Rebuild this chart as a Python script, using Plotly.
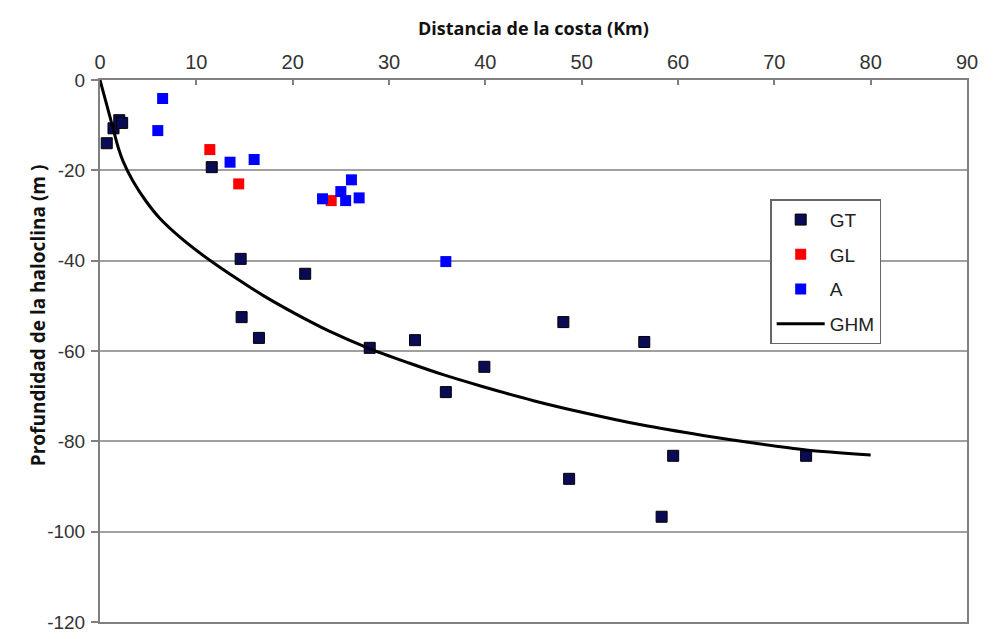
import plotly.graph_objects as go

# GT stations
gt_x = [0.7, 1.4, 2.0, 2.3, 11.6, 14.6, 21.3, 14.7, 16.5, 28.0, 32.7, 35.9, 39.9, 48.1, 48.7, 56.5, 58.3, 59.5, 73.3]
gt_y = [-14.0, -10.7, -8.9, -9.5, -19.3, -39.6, -42.9, -52.5, -57.1, -59.3, -57.6, -69.1, -63.5, -53.6, -88.3, -58.0, -96.7, -83.2, -83.2]

# GL stations
gl_x = [11.4, 14.4, 24.0]
gl_y = [-15.4, -23.0, -26.7]

# A stations
a_x = [6.5, 6.0, 13.5, 16.0, 23.1, 25.0, 26.1, 25.5, 26.9, 35.9]
a_y = [-4.1, -11.2, -18.2, -17.6, -26.3, -24.7, -22.1, -26.7, -26.1, -40.2]

# GHM curve
ghm_x = [0, 0.7, 1.35, 1.9, 2.4, 3.4, 4.8, 6.2, 8.3, 10.3, 12.4, 14.5, 17.0, 20.5, 23.8, 27.9, 32.0, 35.7, 39.6, 45.0, 49.9, 56.3, 62.6, 68.2, 73.3, 80.0]
ghm_y = [0, -5.5, -10.7, -15.0, -18.0, -22.3, -26.9, -30.6, -34.8, -38.2, -41.4, -44.4, -47.8, -52.0, -55.6, -59.4, -62.6, -65.3, -67.8, -71.0, -73.5, -76.4, -78.7, -80.5, -81.9, -83.0]

x_ticks = [0, 10, 20, 30, 40, 50, 60, 70, 80, 90]
y_ticks = [0, -20, -40, -60, -80, -100, -120]

fig = go.Figure()
fig.add_trace(go.Scatter(x=gt_x, y=gt_y, mode="markers", name="GT", legendgroup="gt",
                         marker=dict(symbol="square", size=11, color="#0b0b55",
                                     line=dict(color="#000000", width=1))))
fig.add_trace(go.Scatter(x=gl_x, y=gl_y, mode="markers", name="GL", legendgroup="gl",
                         marker=dict(symbol="square", size=11, color="#ff0000",
                                     line=dict(color="#ff0000", width=0))))
fig.add_trace(go.Scatter(x=a_x, y=a_y, mode="markers", name="A", legendgroup="a",
                         marker=dict(symbol="square", size=11, color="#0000ff",
                                     line=dict(color="#0000ff", width=0))))
fig.add_trace(go.Scatter(x=ghm_x, y=ghm_y, mode="lines", name="GHM", legendgroup="ghm",
                         line=dict(color="#000000", width=3, shape="spline", smoothing=0.8)))

base_font = "Liberation Sans, Arial, sans-serif"

fig.update_layout(
    width=990, height=631,
    margin=dict(l=92, r=31, t=72, b=17),
    paper_bgcolor="white", plot_bgcolor="white",
    showlegend=True,
    legend=dict(x=0.773, y=0.78, xanchor="left", yanchor="top",
                bgcolor="white", bordercolor="#666666", borderwidth=1.5,
                font=dict(family=base_font, size=19, color="#222222"),
                tracegroupgap=7, itemwidth=48, entrywidth=78, entrywidthmode="pixels"),
    xaxis=dict(side="top", range=[0, 90], tickvals=x_ticks, ticktext=[str(v) for v in x_ticks],
               showgrid=False, zeroline=False, showline=True, linecolor="#808080", linewidth=2,
               mirror=True, ticks="inside", ticklen=5, tickcolor="#808080", tickwidth=1.5,
               ticklabelstandoff=1, automargin=False,
               tickfont=dict(family=base_font, size=20, color="#333333")),
    yaxis=dict(range=[-120, 0], tickvals=y_ticks, ticktext=[str(v) for v in y_ticks],
               showgrid=True, gridcolor="#a0a0a0", gridwidth=2, zeroline=False,
               showline=True, linecolor="#808080", linewidth=2, mirror=True,
               ticks="outside", ticklen=7, tickcolor="#808080", tickwidth=1.5,
               ticklabelstandoff=2, automargin=False,
               tickfont=dict(family=base_font, size=19, color="#333333")),
    annotations=[
        dict(text="<b>Distancia de la costa (Km)</b>",
             xref="paper", yref="paper", x=0.5005, y=1.096, xanchor="center", yanchor="middle",
             showarrow=False,
             font=dict(family="Open Sans, sans-serif", size=18, color="#111111")),
        dict(text="<b>Profundidad de la haloclina (m )</b>", textangle=-90,
             xref="paper", yref="paper", x=-0.0715, y=0.566, xanchor="center", yanchor="middle",
             showarrow=False,
             font=dict(family="Open Sans, sans-serif", size=19, color="#111111")),
    ],
)

fig.write_html("out.html")
